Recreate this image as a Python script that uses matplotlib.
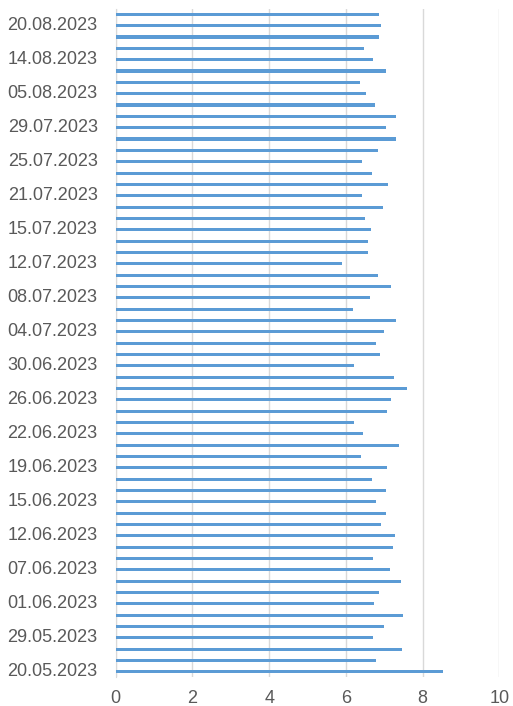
import matplotlib
matplotlib.use("Agg")
import matplotlib.pyplot as plt
import matplotlib.transforms as mtransforms
import numpy as np

dates = [
    "20.05.2023", "24.05.2023", "27.05.2023", "29.05.2023", "30.05.2023", "31.05.2023",
    "01.06.2023", "02.06.2023", "05.06.2023", "07.06.2023", "08.06.2023", "09.06.2023",
    "12.06.2023", "13.06.2023", "14.06.2023", "15.06.2023", "16.06.2023", "17.06.2023",
    "19.06.2023", "20.06.2023", "21.06.2023", "22.06.2023", "23.06.2023", "24.06.2023",
    "26.06.2023", "28.06.2023", "29.06.2023", "30.06.2023", "01.07.2023", "02.07.2023",
    "04.07.2023", "05.07.2023", "06.07.2023", "08.07.2023", "10.07.2023", "11.07.2023",
    "12.07.2023", "13.07.2023", "14.07.2023", "15.07.2023", "18.07.2023", "19.07.2023",
    "21.07.2023", "22.07.2023", "23.07.2023", "25.07.2023", "26.07.2023", "27.07.2023",
    "29.07.2023", "30.07.2023", "03.08.2023", "05.08.2023", "08.08.2023", "11.08.2023",
    "14.08.2023", "16.08.2023", "18.08.2023", "20.08.2023", "22.08.2023",
]
values = [
    8.53, 6.79, 7.46, 6.71, 6.99, 7.49,
    6.73, 6.87, 7.44, 7.14, 6.71, 7.22,
    7.27, 6.92, 7.04, 6.79, 7.04, 6.68,
    7.06, 6.39, 7.38, 6.44, 6.22, 7.06,
    7.17, 7.59, 7.25, 6.22, 6.90, 6.79,
    6.99, 7.32, 6.19, 6.63, 7.17, 6.85,
    5.90, 6.59, 6.58, 6.66, 6.49, 6.96,
    6.41, 7.09, 6.68, 6.41, 6.85, 7.32,
    7.04, 7.30, 6.77, 6.52, 6.36, 7.04,
    6.71, 6.46, 6.87, 6.92, 6.87,
]
xticks = [0, 2, 4, 6, 8, 10]

fig = plt.figure(figsize=(5.13, 7.06), dpi=100)
ax = fig.add_axes([0.2255, 0.0405, 0.7478, 0.9472])

y = np.arange(len(values))
ax.barh(y, values, height=0.27, color="#5B9BD5", zorder=3)

ax.set_ylim(-0.5, len(values) - 0.5)
ax.set_xlim(0, 10)
ax.set_xticks(xticks)
ax.set_xticklabels([str(t) for t in xticks])
shown = list(range(0, len(values), 3))
ax.set_yticks(shown)
ax.set_yticklabels([dates[i] for i in shown])

ax.grid(axis="x", color="#D9D9D9", linewidth=1, zorder=0)
for s in ["top", "right", "bottom"]:
    ax.spines[s].set_visible(False)
ax.spines["left"].set_color("#D9D9D9")
ax.tick_params(axis="both", length=0, colors="#595959", labelsize=13)
for lbl in ax.get_xticklabels() + ax.get_yticklabels():
    lbl.set_family("Liberation Sans")
ax.tick_params(axis="x", pad=9)
ax.tick_params(axis="y", pad=13)
offset = mtransforms.ScaledTranslation(0, 1.5 / 72, fig.dpi_scale_trans)
for lbl in ax.get_yticklabels():
    lbl.set_transform(lbl.get_transform() + offset)

fig.savefig("out.png", dpi=100)
